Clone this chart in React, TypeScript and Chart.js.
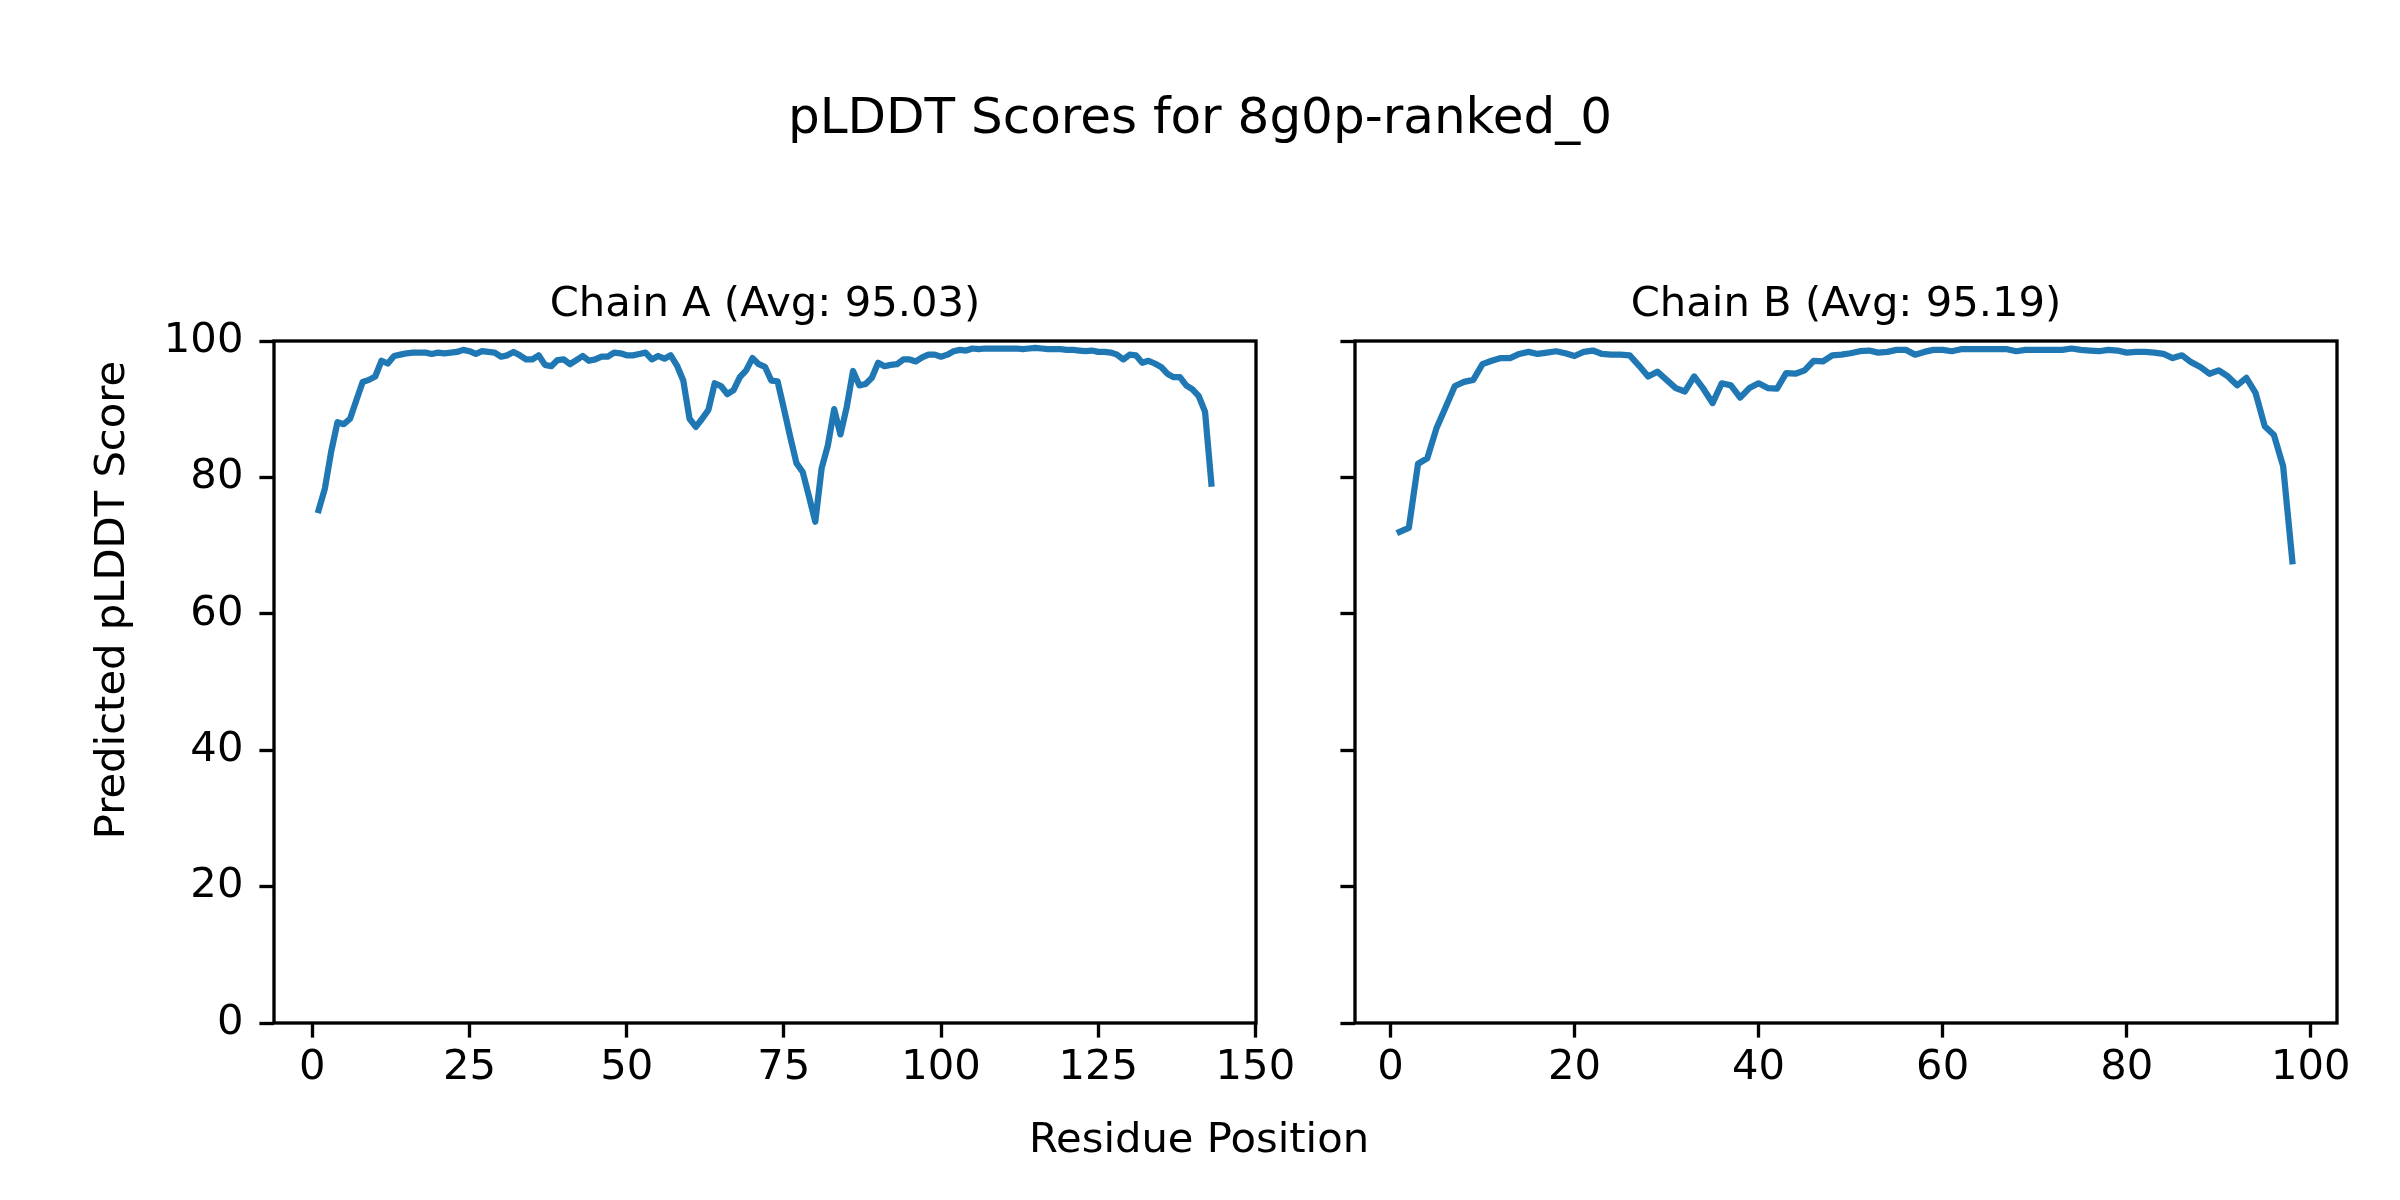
import { useEffect, useRef } from "react";
import { Chart, registerables } from "chart.js";

Chart.register(...registerables);

// ---- data ----
const figureTitle = "pLDDT Scores for 8g0p-ranked_0";
const xAxisLabel = "Residue Position";
const yAxisLabel = "Predicted pLDDT Score";
const chainATitle = "Chain A (Avg: 95.03)";
const chainBTitle = "Chain B (Avg: 95.19)";

const chainAScores = [
  75.2, 78.4, 83.8, 88.1, 87.8, 88.6, 91.3, 94.0, 94.3, 94.8,
  97.1, 96.7, 97.8, 98.0, 98.2, 98.3, 98.3, 98.3, 98.1, 98.3,
  98.2, 98.3, 98.4, 98.7, 98.5, 98.1, 98.5, 98.4, 98.3, 97.7,
  97.9, 98.4, 97.9, 97.3, 97.3, 97.9, 96.5, 96.3, 97.2, 97.3,
  96.6, 97.2, 97.8, 97.1, 97.3, 97.7, 97.7, 98.3, 98.2, 97.9,
  97.9, 98.1, 98.3, 97.3, 97.8, 97.4, 97.9, 96.4, 94.2, 88.6,
  87.4, 88.6, 89.9, 93.8, 93.4, 92.2, 92.8, 94.7, 95.7, 97.5,
  96.6, 96.2, 94.2, 94.1, 90.1, 86.0, 82.1, 80.8, 77.2, 73.5,
  81.3, 84.7, 90.0, 86.3, 90.3, 95.6, 93.5, 93.7, 94.6, 96.8,
  96.3, 96.5, 96.6, 97.3, 97.3, 97.0, 97.6, 98.0, 98.0, 97.7,
  98.0, 98.5, 98.7, 98.6, 98.9, 98.8, 98.9, 98.9, 98.9, 98.9,
  98.9, 98.9, 98.8, 98.9, 99.0, 98.9, 98.8, 98.8, 98.8, 98.7,
  98.7, 98.6, 98.5, 98.6, 98.4, 98.4, 98.3, 98.0, 97.3, 98.0,
  97.9, 96.8, 97.1, 96.7, 96.2, 95.2, 94.7, 94.7, 93.5, 92.9,
  91.9, 89.6, 79.1,
];

const chainBScores = [
  72.0, 72.6, 82.0, 82.8, 87.2, 90.3, 93.4, 94.0, 94.3, 96.6,
  97.1, 97.5, 97.5, 98.1, 98.4, 98.1, 98.3, 98.5, 98.2, 97.8,
  98.4, 98.6, 98.1, 98.0, 98.0, 97.9, 96.4, 94.8, 95.5, 94.3,
  93.1, 92.6, 94.8, 93.0, 90.9, 93.8, 93.5, 91.7, 93.1, 93.8,
  93.1, 93.0, 95.3, 95.2, 95.7, 97.1, 97.0, 97.9, 98.0, 98.2,
  98.5, 98.6, 98.3, 98.4, 98.7, 98.7, 98.0, 98.4, 98.7, 98.7,
  98.5, 98.8, 98.8, 98.8, 98.8, 98.8, 98.8, 98.5, 98.7, 98.7,
  98.7, 98.7, 98.7, 98.9, 98.7, 98.6, 98.5, 98.7, 98.6, 98.3,
  98.4, 98.4, 98.3, 98.1, 97.5, 97.9, 96.9, 96.2, 95.2, 95.7,
  94.8, 93.5, 94.6, 92.4, 87.5, 86.2, 81.6, 67.7,
];

const yTicks = [0, 20, 40, 60, 80, 100];
const chainAXTicks = [0, 25, 50, 75, 100, 125, 150];
const chainBXTicks = [0, 20, 40, 60, 80, 100];

// ---- styling ----
const FONT = "DejaVu Sans";
const LINE_COLOR = "#1f77b4";
const TICK_FONT = 41.7;
const TITLE_FONT = 41.7;
const SUPTITLE_FONT = 50;
const SPINE_W = 3.33;
const TICK_LEN = 14.6;

type TextItem = {
  text: string;
  x: number;
  y: number;
  size: number;
  rotate?: boolean;
};

function makeFramePlugin(axTitle: string, extra: TextItem[]) {
  return {
    id: "frameAndText",
    afterDatasetsDraw(chart: any) {
      const { ctx, chartArea: a } = chart;
      ctx.save();
      ctx.strokeStyle = "#000";
      ctx.lineWidth = SPINE_W;
      ctx.lineJoin = "miter";
      ctx.strokeRect(a.left, a.top, a.right - a.left, a.bottom - a.top);
      ctx.restore();
    },
    afterDraw(chart: any) {
      const { ctx, chartArea: a } = chart;
      ctx.save();
      ctx.fillStyle = "#000";
      ctx.textAlign = "center";
      ctx.textBaseline = "alphabetic";
      ctx.font = `${TITLE_FONT}px "${FONT}"`;
      ctx.fillText(axTitle, (a.left + a.right) / 2, a.top - 25);
      for (const t of extra) {
        ctx.font = `${t.size}px "${FONT}"`;
        if (t.rotate) {
          ctx.save();
          ctx.translate(t.x, t.y);
          ctx.rotate(-Math.PI / 2);
          ctx.fillText(t.text, 0, 0);
          ctx.restore();
        } else {
          ctx.fillText(t.text, t.x, t.y);
        }
      }
      ctx.restore();
    },
  };
}

function buildConfig(
  scores: number[],
  xTicks: number[],
  padLeft: number,
  padRight: number,
  yAxisWidth: number,
  showYLabels: boolean,
  axTitle: string,
  extra: TextItem[]
): any {
  const n = scores.length;
  const span = n - 1;
  const xmin = 1 - 0.05 * span;
  const xmax = n + 0.05 * span;
  const points = scores.map((v, i) => ({ x: i + 1, y: v }));
  const grid = {
    drawOnChartArea: false,
    drawTicks: true,
    tickLength: TICK_LEN,
    tickWidth: SPINE_W,
    tickColor: "#000",
  };
  return {
    type: "line",
    data: {
      datasets: [
        {
          data: points,
          borderColor: LINE_COLOR,
          borderWidth: 6.25,
          pointRadius: 0,
          fill: false,
          tension: 0,
          borderCapStyle: "square",
          borderJoinStyle: "round",
        },
      ],
    },
    options: {
      responsive: false,
      animation: false,
      devicePixelRatio: 1,
      events: [],
      layout: { padding: { left: padLeft, right: padRight, top: 341, bottom: 0 } },
      plugins: {
        legend: { display: false },
        tooltip: { enabled: false },
        title: { display: false },
      },
      scales: {
        x: {
          type: "linear",
          min: xmin,
          max: xmax,
          afterBuildTicks: (s: any) => {
            s.ticks = xTicks.map((v) => ({ value: v }));
          },
          afterFit: (s: any) => {
            s.height = 177;
          },
          grid,
          border: { display: false },
          ticks: {
            font: { family: FONT, size: TICK_FONT },
            color: "#000",
            padding: 6,
            maxRotation: 0,
            autoSkip: false,
          },
        },
        y: {
          type: "linear",
          min: 0,
          max: 100,
          afterBuildTicks: (s: any) => {
            s.ticks = yTicks.map((v) => ({ value: v }));
          },
          afterFit: (s: any) => {
            s.width = yAxisWidth;
          },
          grid,
          border: { display: false },
          ticks: {
            font: { family: FONT, size: TICK_FONT },
            color: showYLabels ? "#000" : "rgba(0,0,0,0)",
            padding: 16,
            autoSkip: false,
          },
        },
      },
    },
    plugins: [makeFramePlugin(axTitle, extra)],
  };
}

export default function App() {
  const refA = useRef<HTMLCanvasElement | null>(null);
  const refB = useRef<HTMLCanvasElement | null>(null);

  useEffect(() => {
    if (!refA.current || !refB.current) return;
    const extraA: TextItem[] = [
      { text: figureTitle, x: 1200, y: 133, size: SUPTITLE_FONT },
      { text: xAxisLabel, x: 1199, y: 1151.7, size: TICK_FONT },
      { text: yAxisLabel, x: 123.5, y: 600, size: TICK_FONT, rotate: true },
    ];
    const chartA = new Chart(
      refA.current,
      buildConfig(chainAScores, chainAXTicks, 0, 2400 - 1256, 274, true, chainATitle, extraA)
    );
    const chartB = new Chart(
      refB.current,
      buildConfig(chainBScores, chainBXTicks, 1300, 2400 - 2337, 55, false, chainBTitle, [])
    );
    return () => {
      chartA.destroy();
      chartB.destroy();
    };
  }, []);

  const canvasStyle: any = { position: "absolute", left: 0, top: 0, width: 2400, height: 1200 };
  return (
    <div style={{ position: "fixed", left: 0, top: 0, width: 2400, height: 1200, background: "#fff" }}>
      <canvas ref={refA} width={2400} height={1200} style={canvasStyle} />
      <canvas ref={refB} width={2400} height={1200} style={canvasStyle} />
    </div>
  );
}
